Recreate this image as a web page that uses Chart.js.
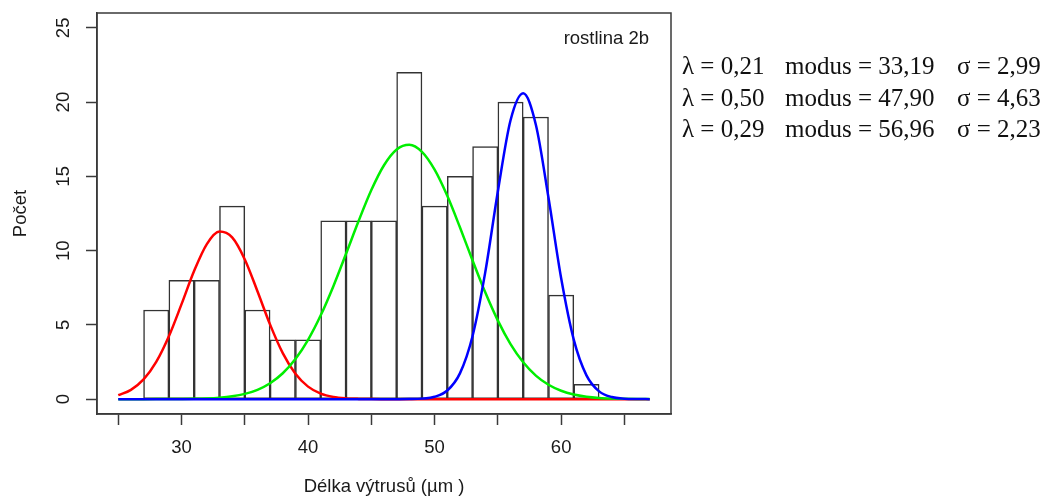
<!DOCTYPE html>
<html>
<head>
<meta charset="utf-8">
<script src="https://cdn.jsdelivr.net/npm/chart.js@4.4.0/dist/chart.umd.min.js"></script>
<style>
  body { margin: 0; background: #fff; }
  #wrap { position: relative; width: 1057px; height: 499px; overflow: hidden; }
  #chart { position: absolute; left: 0; top: 0; }
  .plant { position: absolute; right: 408px; top: 26.6px; font-family: 'Liberation Sans', Arial, sans-serif; font-size: 18.5px; color: #1a1a1a; white-space: nowrap; }
  .stats { position: absolute; top: 50px; font-family: 'Liberation Serif', 'Times New Roman', serif; font-size: 25px; line-height: 31.7px; color: #111; white-space: nowrap; }
</style>
</head>
<body>
<div id="wrap">
  <canvas id="chart" width="1057" height="499"></canvas>
  <div class="plant">rostlina 2b</div>
  <div class="stats" id="colLambda" style="left:682px"></div>
  <div class="stats" id="colModus" style="left:785px"></div>
  <div class="stats" id="colSigma" style="left:957px"></div>
</div>
<script>
// histogram: bin centres (width 2) and counts
const binCenters = [28, 30, 32, 34, 36, 38, 40, 42, 44, 46, 48, 50, 52, 54, 56, 58, 60, 62];
const binCounts = [6, 8, 8, 13, 6, 4, 4, 12, 12, 12, 22, 13, 15, 17, 20, 19, 7, 1];

// fitted component curves at x = 25..67
const curveX = [25, 26, 27, 28, 29, 30, 31, 32, 33, 34, 35, 36, 37, 38, 39, 40, 41, 42, 43, 44, 45,
  46, 47, 48, 49, 50, 51, 52, 53, 54, 55, 56, 57, 58, 59, 60, 61, 62, 63, 64, 65, 66, 67];
const redY = [0.265, 0.627, 1.326, 2.504, 4.233, 6.396, 8.642, 10.44, 11.28, 10.89, 9.409, 7.266,
  5.017, 3.097, 1.711, 0.844, 0.373, 0.147, 0.052, 0.016, 0.004, 0.001, 0, 0, 0, 0, 0, 0, 0, 0,
  0, 0, 0, 0, 0, 0, 0, 0, 0, 0, 0, 0, 0];
const greenY = [0, 0, 0.001, 0.002, 0.004, 0.010, 0.022, 0.047, 0.097, 0.189, 0.353, 0.630, 1.072,
  1.742, 2.700, 3.995, 5.643, 7.606, 9.785, 12.01, 14.08, 15.75, 16.81, 17.13, 16.65, 15.45, 13.69,
  11.57, 9.338, 7.191, 5.286, 3.707, 2.482, 1.586, 0.968, 0.564, 0.313, 0.166, 0.084, 0.041,
  0.019, 0.008, 0.004];
const blueY = [0, 0, 0, 0, 0, 0, 0, 0, 0, 0, 0, 0, 0, 0, 0, 0, 0, 0, 0, 0, 0, 0, 0.001, 0.006,
  0.035, 0.158, 0.580, 1.736, 4.256, 8.537, 14.00, 18.78, 20.60, 18.48, 13.56, 8.135, 3.993,
  1.603, 0.526, 0.141, 0.031, 0.006, 0.001];

const xTicks = [25, 30, 35, 40, 45, 50, 55, 60, 65];
const xTickLabels = ['', '30', '', '40', '', '50', '', '60', ''];
const yTicks = [0, 5, 10, 15, 20, 25];

const compLambda = ['0,21', '0,50', '0,29'];
const compModus = ['33,19', '47,90', '56,96'];
const compSigma = ['2,99', '4,63', '2,23'];

document.getElementById('colLambda').innerHTML = compLambda.map(v => 'λ = ' + v).join('<br>');
document.getElementById('colModus').innerHTML = compModus.map(v => 'modus = ' + v).join('<br>');
document.getElementById('colSigma').innerHTML = compSigma.map(v => 'σ = ' + v).join('<br>');

const axisColor = '#3a3a3a';
const textColor = '#1a1a1a';
const font = { family: "'Liberation Sans', Arial, sans-serif", size: 18.5 };

const boxPlugin = {
  id: 'box',
  afterDraw(chart) {
    const { ctx, chartArea: a } = chart;
    ctx.save();
    ctx.strokeStyle = axisColor;
    ctx.lineWidth = 1.5;
    ctx.strokeRect(a.left, a.top, a.right - a.left, a.bottom - a.top);
    ctx.restore();
  }
};

const curve = (ys, color, order) => ({
  type: 'line',
  data: curveX.map((x, i) => ({ x: x, y: ys[i] })),
  borderColor: color,
  borderWidth: 2.5,
  pointRadius: 0,
  cubicInterpolationMode: 'monotone',
  order: order
});

new Chart(document.getElementById('chart'), {
  type: 'bar',
  data: {
    datasets: [
      {
        type: 'bar',
        data: binCenters.map((x, i) => ({ x: x, y: binCounts[i] })),
        backgroundColor: '#ffffff',
        borderColor: '#333333',
        borderWidth: 1.5,
        borderSkipped: false,
        barPercentage: 1,
        categoryPercentage: 1,
        order: 4
      },
      curve(redY, '#ff0000', 3),
      curve(greenY, '#00ee00', 2),
      curve(blueY, '#0000ff', 1)
    ]
  },
  options: {
    responsive: false,
    animation: false,
    devicePixelRatio: 1,
    layout: { padding: { top: 13, right: 386, left: 0, bottom: 0 } },
    plugins: { legend: { display: false }, tooltip: { enabled: false } },
    scales: {
      x: {
        type: 'linear',
        min: 23.32,
        max: 68.68,
        offset: false,
        afterFit(scale) {
          scale.height = 85;
          scale.paddingLeft = 0;
          scale.paddingRight = 0;
        },
        afterBuildTicks(scale) { scale.ticks = xTicks.map(v => ({ value: v })); },
        ticks: {
          autoSkip: false,
          maxRotation: 0,
          padding: 12,
          font: font,
          color: textColor,
          callback: (value) => xTickLabels[xTicks.indexOf(value)]
        },
        grid: { offset: false, drawOnChartArea: false, tickLength: 11, tickColor: axisColor, tickWidth: 1.5 },
        border: { color: axisColor, width: 1.5 },
        title: { display: true, text: 'Délka výtrusů (µm )', font: font, color: textColor, padding: { top: 0, bottom: 1 } }
      },
      y: {
        type: 'linear',
        min: -1,
        max: 26,
        afterFit(scale) {
          scale.width = 97;
          scale.paddingTop = 0;
          scale.paddingBottom = 0;
        },
        afterBuildTicks(scale) { scale.ticks = yTicks.map(v => ({ value: v })); },
        ticks: {
          minRotation: 90,
          maxRotation: 90,
          crossAlign: 'center',
          padding: 12,
          font: font,
          color: textColor
        },
        grid: { drawOnChartArea: false, tickLength: 11, tickColor: axisColor, tickWidth: 1.5 },
        border: { color: axisColor, width: 1.5 },
        title: { display: true, text: 'Počet', font: font, color: textColor, padding: { top: 10, bottom: 0 } }
      }
    }
  },
  plugins: [boxPlugin]
});
</script>
</body>
</html>
